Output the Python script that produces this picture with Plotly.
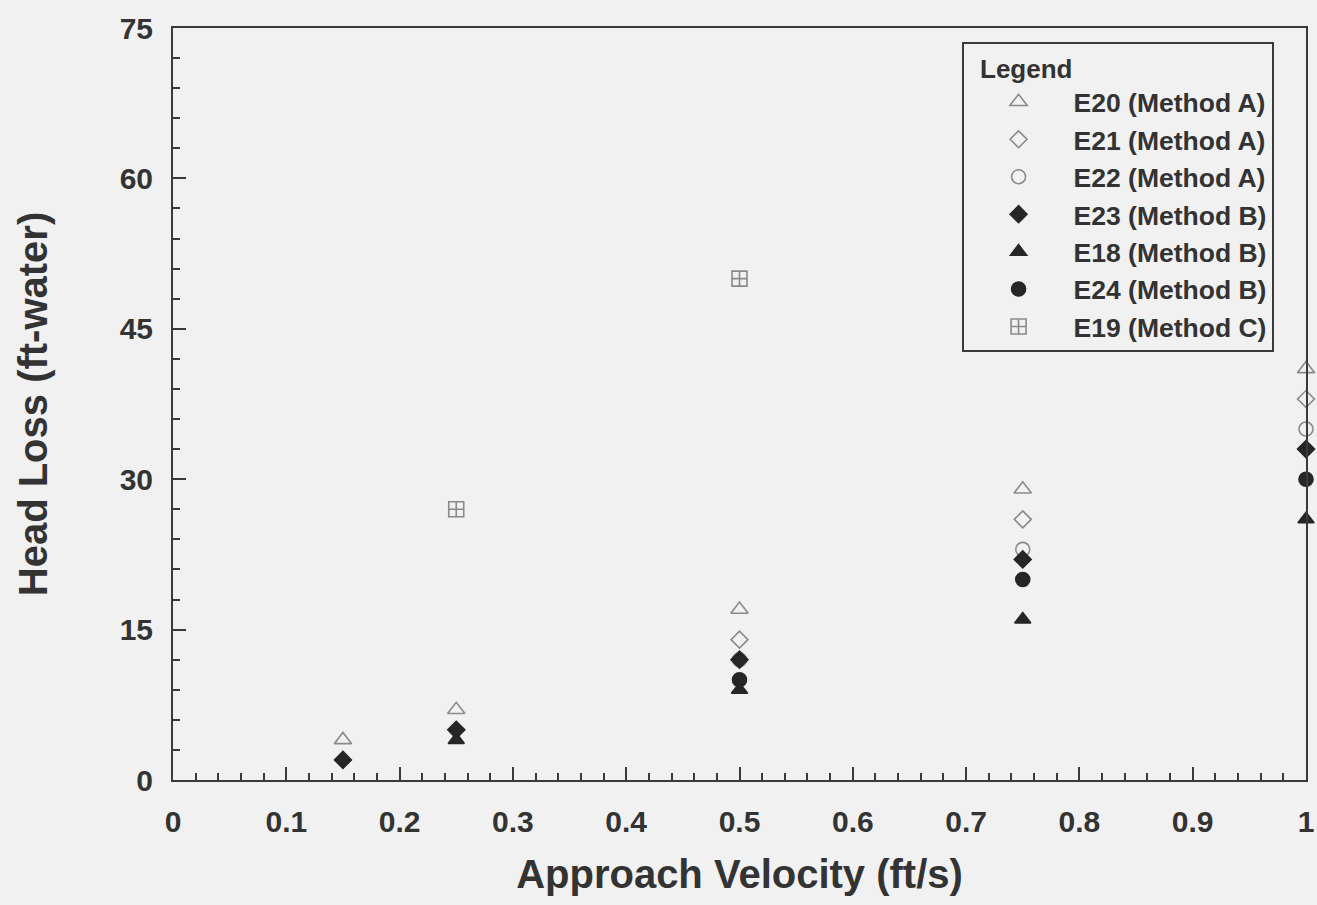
import plotly.graph_objects as go

# ---- data ----
e20_x = [0.15, 0.25, 0.5, 0.75, 1.0]
e20_y = [4, 7, 17, 29, 41]
e21_x = [0.5, 0.75, 1.0]
e21_y = [14, 26, 38]
e22_x = [0.5, 0.75, 1.0]
e22_y = [12, 23, 35]
e23_x = [0.15, 0.25, 0.5, 0.75, 1.0]
e23_y = [2, 5, 12, 22, 33]
e18_x = [0.25, 0.5, 0.75, 1.0]
e18_y = [4, 9, 16, 26]
e24_x = [0.5, 0.75, 1.0]
e24_y = [10, 20, 30]
e19_x = [0.25, 0.5]
e19_y = [27, 50]

x_ticks = [0, 0.1, 0.2, 0.3, 0.4, 0.5, 0.6, 0.7, 0.8, 0.9, 1]
x_tick_labels = ["0", "0.1", "0.2", "0.3", "0.4", "0.5", "0.6", "0.7", "0.8", "0.9", "1"]
y_ticks = [0, 15, 30, 45, 60, 75]

GRAY = "#8a8a8a"
DARK = "#262626"
BG = "#f1f1f1"
TXT = "#333333"
LINE = "#3a3a3a"
FONT = "Liberation Sans, Arial, sans-serif"

series = [
    ("E20 (Method A)", e20_x, e20_y, "triangle-up-open", GRAY, 15),
    ("E21 (Method A)", e21_x, e21_y, "diamond-open", GRAY, 13),
    ("E22 (Method A)", e22_x, e22_y, "circle-open", GRAY, 14),
    ("E23 (Method B)", e23_x, e23_y, "diamond", DARK, 13),
    ("E18 (Method B)", e18_x, e18_y, "triangle-up", DARK, 14),
    ("E24 (Method B)", e24_x, e24_y, "circle", DARK, 14),
    ("E19 (Method C)", e19_x, e19_y, "square-cross-open", GRAY, 15),
]

fig = go.Figure()
for name, xs, ys, sym, col, size in series:
    fig.add_trace(go.Scatter(
        x=xs, y=ys, mode="markers", name=name, cliponaxis=False,
        marker=dict(symbol=sym, color=col, size=size, line=dict(color=col, width=1.6)),
    ))

axis_common = dict(
    showgrid=False, zeroline=False, showline=True, linecolor=LINE, linewidth=2,
    mirror=True, ticks="inside", ticklen=13, tickwidth=2, tickcolor=LINE,
    tickfont=dict(family=FONT, size=30, color=TXT, weight="bold"),
    ticklabeloverflow="allow",
)

fig.update_xaxes(
    range=[0, 1], tickmode="array", tickvals=x_ticks, ticktext=x_tick_labels,
    minor=dict(dtick=0.02, ticks="inside", ticklen=7, tickwidth=2, tickcolor=LINE),
    ticklabelstandoff=14,
    title=dict(text="Approach Velocity (ft/s)", font=dict(family=FONT, size=40, color=TXT, weight="bold"), standoff=23),
    **axis_common,
)
fig.update_yaxes(
    range=[0, 75], tickmode="array", tickvals=y_ticks,
    minor=dict(dtick=3, ticks="inside", ticklen=7, tickwidth=2, tickcolor=LINE),
    ticklabelstandoff=12,
    title=dict(text="Head Loss (ft-water)", font=dict(family=FONT, size=40, color=TXT, weight="bold"), standoff=60),
    **axis_common,
)

fig.update_layout(
    width=1317, height=905,
    margin=dict(l=173, r=3, t=28, b=125),
    paper_bgcolor=BG, plot_bgcolor=BG,
    font=dict(family=FONT, color=TXT),
    showlegend=True,
    legend=dict(
        x=0.696, y=0.981, xanchor="left", yanchor="top",
        bgcolor=BG, bordercolor=LINE, borderwidth=2,
        font=dict(family=FONT, size=26.5, color=TXT, weight="bold"),
        title=dict(text="\u00a0\u00a0Legend", font=dict(family=FONT, size=26, color=TXT, weight="bold"), side="top"),
        itemwidth=100, traceorder="normal",
    ),
)

fig.write_html("out.html")
